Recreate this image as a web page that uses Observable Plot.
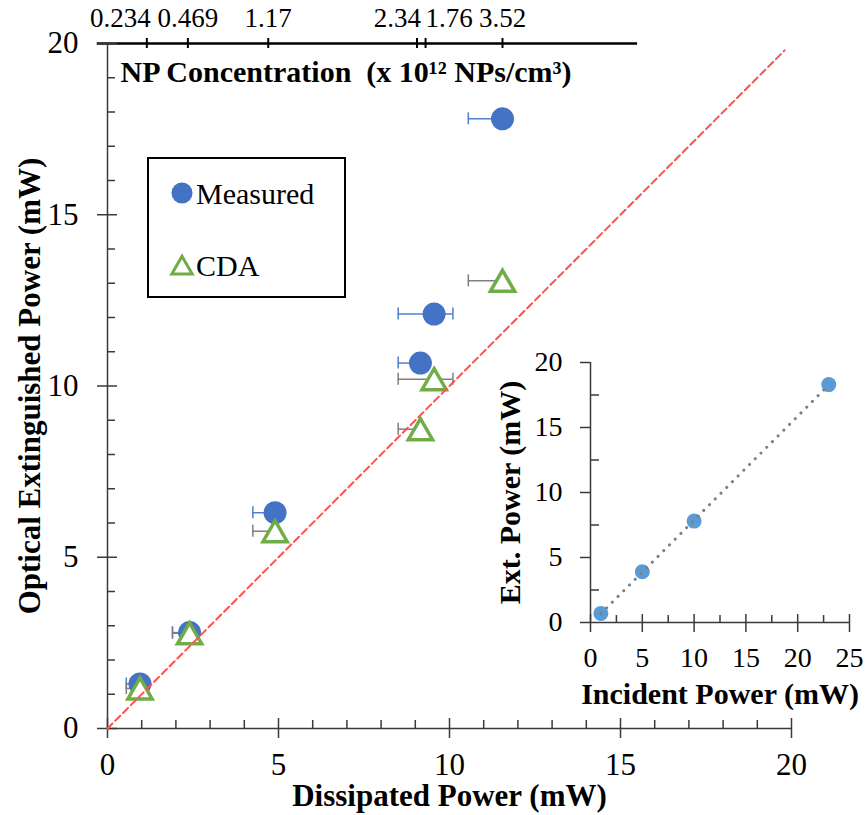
<!DOCTYPE html>
<html>
<head>
<meta charset="utf-8">
<script src="https://cdn.jsdelivr.net/npm/d3@7"></script>
<script src="https://cdn.jsdelivr.net/npm/@observablehq/plot@0.6"></script>
<style>
  html, body { margin: 0; padding: 0; background: #fff; }
  #chart { position: relative; width: 867px; height: 815px; font-family: "Liberation Serif", "Times New Roman", serif; }
  #chart > svg, #chart > div { position: absolute; }
  #legend { left: 147px; top: 157px; width: 195px; height: 137px; border: 2px solid #000; background: #fff; }
</style>
</head>
<body>
<div id="chart"></div>
<script>
// Dissipated power (mW) of each sample and the limits of its horizontal error bar
const dissipated     = [0.95, 2.4, 4.9, 9.15, 9.55, 11.55];
const dissipatedLow  = [0.55, 1.9, 4.25, 8.5, 8.5, 10.55];
const dissipatedHigh = [0.95, 2.4, 4.9, 9.15, 10.1, 11.55];

// Optical extinguished power (mW)
const measuredExt = [1.3, 2.8, 6.3, 10.67, 12.1, 17.8];
const cdaExt      = [1.17, 2.78, 5.76, 8.74, 10.2, 13.07];

// Secondary (top) axis: NP concentration (x 10^12 NPs/cm^3)
const concTickX  = [1.15, 2.35, 4.7, 9.05, 9.3, 11.55];
const concLabels = ["0.234", "0.469", "1.17", "2.34", "1.76", "3.52"];
const concAxisSpan = [-0.3, 15.5];

// y = x reference
const identityLine = [0, 19.8];

// Inset: extinguished vs incident power (mW)
const incident = [1, 5, 10, 23];
const extPower = [0.7, 3.9, 7.8, 18.3];

const serif = '"Liberation Serif", "Times New Roman", serif';
const axisColor = "#3a3a3a";

const samples = dissipated.map((x, i) => ({
  x, lo: dissipatedLow[i], hi: dissipatedHigh[i], measured: measuredExt[i], cda: cdaExt[i]
}));
const concTicks = concTickX.map((x, i) => ({x, label: concLabels[i], i}));
const diag = identityLine.map((v) => ({v}));
const major = d3.range(0, 21, 5);
const minor = d3.range(0, 21, 1).filter((v) => v % 5 !== 0);

const endLabels = new Set(["0.234", "2.34"]);
const startLabels = new Set(["1.76"]);
const topLabel = {x: "x", text: "label", frameAnchor: "top", lineAnchor: "middle", dy: -25, fontSize: 27};

const main = Plot.plot({
  width: 867,
  height: 815,
  marginLeft: 107,
  marginRight: 76,
  marginTop: 43,
  marginBottom: 87,
  x: {domain: [0, 20]},
  y: {domain: [0, 20]},
  style: {fontFamily: serif, fontSize: "30px", color: "#000", background: "transparent", overflow: "visible"},
  marks: [
    // secondary axis line, ticks and labels along the top
    Plot.ruleY([20], {x1: concAxisSpan[0], x2: concAxisSpan[1], stroke: "#000", strokeWidth: 2.5}),
    Plot.ruleX(concTicks, {x: "x", y1: 20, y2: 20, insetTop: -5, insetBottom: -5, stroke: "#000", strokeWidth: 2}),
    Plot.text(concTicks, {...topLabel, filter: (d) => !endLabels.has(d.label) && !startLabels.has(d.label)}),
    Plot.text(concTicks, {...topLabel, filter: (d) => endLabels.has(d.label), textAnchor: "end", dx: 4}),
    Plot.text(concTicks, {...topLabel, filter: (d) => startLabels.has(d.label), textAnchor: "start"}),
    Plot.text(["NP Concentration\u00a0\u00a0(x 10\u00b9\u00b2 NPs/cm\u00b3)"], {frameAnchor: "top-left", textAnchor: "start", lineAnchor: "middle", dx: 13, dy: 29, fontSize: 30, fontWeight: "bold"}),

    // primary axes
    Plot.ruleX([0], {stroke: axisColor, strokeWidth: 1.5}),
    Plot.ruleY([0], {stroke: axisColor, strokeWidth: 1.5}),
    Plot.ruleX(major, {x: (d) => d, y1: 0, y2: 0, insetTop: -10, insetBottom: -10, stroke: axisColor, strokeWidth: 1.5}),
    Plot.ruleX(minor, {x: (d) => d, y1: 0, y2: 0, insetTop: -8, insetBottom: 0, stroke: axisColor, strokeWidth: 1.5}),
    Plot.ruleY(major, {y: (d) => d, x1: 0, x2: 0, insetLeft: -10, insetRight: -10, stroke: axisColor, strokeWidth: 1.5}),
    Plot.ruleY(minor, {y: (d) => d, x1: 0, x2: 0, insetLeft: 0, insetRight: -8, stroke: axisColor, strokeWidth: 1.5}),
    Plot.axisX({ticks: major, tickSize: 0, tickPadding: 24, fontSize: 31, label: null}),
    Plot.axisY({ticks: major, tickSize: 0, tickPadding: 29, fontSize: 31, label: null}),
    Plot.text(["Dissipated Power (mW)"], {frameAnchor: "bottom", lineAnchor: "middle", dy: 68, fontSize: 31, fontWeight: "bold"}),
    Plot.text(["Optical Extinguished Power (mW)"], {frameAnchor: "left", textAnchor: "middle", lineAnchor: "middle", rotate: -90, dx: -77, fontSize: 31, fontWeight: "bold"}),

    // horizontal error bars
    Plot.ruleY(samples, {y: "measured", x1: "lo", x2: "hi", stroke: "#4f7fcf", strokeWidth: 1.5}),
    Plot.ruleX(samples, {x: "lo", y1: "measured", y2: "measured", insetTop: -6, insetBottom: -6, stroke: "#4f7fcf", strokeWidth: 1.5}),
    Plot.ruleX(samples, {filter: (d) => d.hi > d.x, x: "hi", y1: "measured", y2: "measured", insetTop: -6, insetBottom: -6, stroke: "#4f7fcf", strokeWidth: 1.5}),
    Plot.ruleY(samples, {y: "cda", x1: "lo", x2: "hi", stroke: "#7f7f7f", strokeWidth: 1.5}),
    Plot.ruleX(samples, {x: "lo", y1: "cda", y2: "cda", insetTop: -6, insetBottom: -6, stroke: "#7f7f7f", strokeWidth: 1.5}),
    Plot.ruleX(samples, {filter: (d) => d.hi > d.x, x: "hi", y1: "cda", y2: "cda", insetTop: -6, insetBottom: -6, stroke: "#7f7f7f", strokeWidth: 1.5}),

    // measured and CDA points
    Plot.dot(samples, {x: "x", y: "measured", r: 11.5, fill: "#4472C4"}),
    Plot.dot(samples, {x: "x", y: "cda", r: 9, symbol: "triangle", fill: "#fff", stroke: "#70AD47", strokeWidth: 3.5, dy: 3.5}),

    // y = x
    Plot.line(diag, {x: "v", y: "v", stroke: "#ff5050", strokeWidth: 2, strokeDasharray: "7,4"})
  ]
});
main.style.left = "0px";
main.style.top = "0px";

const insetData = incident.map((x, i) => ({x, y: extPower[i]}));
const inset = Plot.plot({
  width: 377,
  height: 370,
  marginLeft: 100,
  marginRight: 18,
  marginTop: 32,
  marginBottom: 78,
  x: {domain: [0, 25]},
  y: {domain: [0, 20]},
  style: {fontFamily: serif, fontSize: "27px", color: "#000", background: "transparent", overflow: "visible"},
  marks: [
    Plot.ruleX([0], {stroke: axisColor, strokeWidth: 1.5}),
    Plot.ruleY([0], {stroke: axisColor, strokeWidth: 1.5}),
    Plot.ruleX(d3.range(0, 26, 5), {x: (d) => d, y1: 0, y2: 0, insetTop: -8, insetBottom: -10, stroke: axisColor, strokeWidth: 1.5}),
    Plot.ruleX(d3.range(2.5, 25, 5), {x: (d) => d, y1: 0, y2: 0, insetTop: -7, insetBottom: 0, stroke: axisColor, strokeWidth: 1.5}),
    Plot.ruleY(d3.range(0, 21, 5), {y: (d) => d, x1: 0, x2: 0, insetLeft: -10, insetRight: 0, stroke: axisColor, strokeWidth: 1.5}),
    Plot.ruleY(d3.range(2.5, 20, 5), {y: (d) => d, x1: 0, x2: 0, insetLeft: 0, insetRight: -9, stroke: axisColor, strokeWidth: 1.5}),
    Plot.axisX({ticks: d3.range(0, 26, 5), tickSize: 0, tickPadding: 25, fontSize: 28, label: null}),
    Plot.axisY({ticks: d3.range(0, 21, 5), tickSize: 0, tickPadding: 28, fontSize: 28, label: null}),
    Plot.text(["Incident Power (mW)"], {frameAnchor: "bottom", lineAnchor: "middle", dy: 72, fontSize: 30, fontWeight: "bold"}),
    Plot.text(["Ext. Power (mW)"], {frameAnchor: "left", textAnchor: "middle", lineAnchor: "middle", rotate: -90, dx: -80, fontSize: 30, fontWeight: "bold"}),
    Plot.dot(insetData, {x: "x", y: "y", r: 7.5, fill: "#5B9BD5"}),
    Plot.linearRegressionY(insetData, {x: "x", y: "y", ci: 0, stroke: "#7f7f7f", strokeWidth: 3, strokeDasharray: "0.1,8", strokeLinecap: "round"})
  ]
});
inset.style.left = "490px";
inset.style.top = "330px";

// legend box
const legend = document.createElement("div");
legend.id = "legend";
const lg = d3.select(legend).append("svg")
  .attr("width", 195).attr("height", 137)
  .style("font-family", serif).style("font-size", "30px");
lg.append("circle").attr("cx", 33).attr("cy", 34).attr("r", 10.5).attr("fill", "#4472C4");
lg.append("text").attr("x", 47).attr("y", 34).attr("dy", "0.35em").text("Measured");
const tri = d3.symbol(d3.symbolTriangle, 180)();
lg.append("path").attr("d", tri).attr("transform", "translate(33,109)")
  .attr("fill", "#fff").attr("stroke", "#70AD47").attr("stroke-width", 3);
lg.append("text").attr("x", 47).attr("y", 106).attr("dy", "0.35em").text("CDA");

const chart = document.getElementById("chart");
chart.append(main, inset, legend);
</script>
</body>
</html>
